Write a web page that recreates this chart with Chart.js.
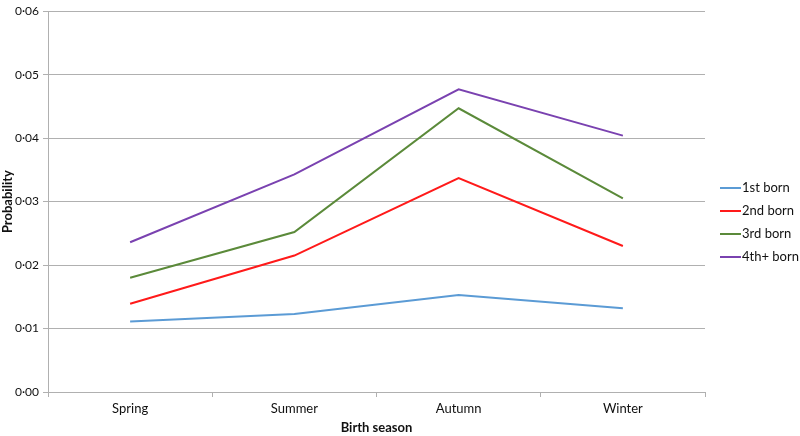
<!DOCTYPE html>
<html>
<head>
<meta charset="utf-8">
<script src="https://cdn.jsdelivr.net/npm/chart.js@4.4.1/dist/chart.umd.min.js"></script>
<style>
    html, body { margin: 0; padding: 0; background: #fff; }
    #wrap { width: 800px; height: 436px; }
</style>
</head>
<body>
<div id="wrap"><canvas id="seasonChart" width="800" height="436"></canvas></div>
<script>
// Données
const seasons = ['Spring', 'Summer', 'Autumn', 'Winter'];
const firstBorn = [0.0111, 0.0123, 0.0153, 0.0132];
const secondBorn = [0.0139, 0.0215, 0.0337, 0.0230];
const thirdBorn = [0.0180, 0.0252, 0.0447, 0.0305];
const fourthBorn = [0.0236, 0.0343, 0.0477, 0.0404];
const yTicks = [0, 0.01, 0.02, 0.03, 0.04, 0.05, 0.06];

const fontFamily = 'Lato, "Open Sans", sans-serif';

function makeSet(label, values, color) {
    return {
        label: label,
        data: values,
        borderColor: color,
        backgroundColor: color,
        borderWidth: 2,
        pointRadius: 0,
        tension: 0
    };
}

// Légende dessinée à la main (à droite, un peu sous le centre)
const sideLegend = {
    id: 'sideLegend',
    afterDraw(chart) {
        const c = chart.ctx;
        c.save();
        c.font = '13px ' + fontFamily;
        c.textBaseline = 'middle';
        c.fillStyle = '#111';
        chart.data.datasets.forEach((ds, i) => {
            const y = 188 + i * 23;
            c.strokeStyle = ds.borderColor;
            c.lineWidth = 2;
            c.beginPath();
            c.moveTo(720, y);
            c.lineTo(741, y);
            c.stroke();
            c.fillText(ds.label, 742, y);
        });
        c.restore();
    }
};

const ctx = document.getElementById('seasonChart').getContext('2d');
const seasonChart = new Chart(ctx, {
    type: 'line',
    data: {
        labels: seasons,
        datasets: [
            makeSet('1st born', firstBorn, '#5b9bd5'),
            makeSet('2nd born', secondBorn, '#ff1a1a'),
            makeSet('3rd born', thirdBorn, '#5b8a3a'),
            makeSet('4th+ born', fourthBorn, '#7a42b0')
        ]
    },
    options: {
        responsive: false,
        animation: false,
        events: [],
        layout: { padding: { top: 7, right: 95, left: 0, bottom: 0 } },
        plugins: {
            legend: { display: false },
            tooltip: { enabled: false }
        },
        scales: {
            x: {
                offset: true,
                grid: {
                    offset: true,
                    drawOnChartArea: false,
                    drawTicks: true,
                    tickLength: 5,
                    color: '#b0b0b0'
                },
                border: { color: '#b0b0b0' },
                ticks: {
                    color: '#111',
                    font: { family: fontFamily, size: 13 },
                    padding: 4,
                    maxRotation: 0
                },
                title: {
                    display: true,
                    text: 'Birth season',
                    color: '#111',
                    font: { family: fontFamily, size: 13, weight: 'bold' },
                    padding: { top: 2, bottom: 0 }
                },
                afterFit(scale) { scale.height = 44; }
            },
            y: {
                min: 0,
                max: 0.06,
                afterBuildTicks(scale) {
                    scale.ticks = yTicks.map(v => ({ value: v }));
                },
                grid: {
                    color: '#b0b0b0',
                    tickLength: 5,
                    drawTicks: true
                },
                border: { color: '#b0b0b0' },
                ticks: {
                    color: '#111',
                    font: { family: fontFamily, size: 12 },
                    padding: 4,
                    callback: v => v.toFixed(2).replace('.', '·')
                },
                title: {
                    display: true,
                    text: 'Probability',
                    color: '#111',
                    font: { family: fontFamily, size: 13, weight: 'bold' },
                    padding: { top: 0, bottom: 2 }
                },
                afterFit(scale) { scale.width = 48; }
            }
        }
    },
    plugins: [sideLegend]
});
</script>
</body>
</html>
